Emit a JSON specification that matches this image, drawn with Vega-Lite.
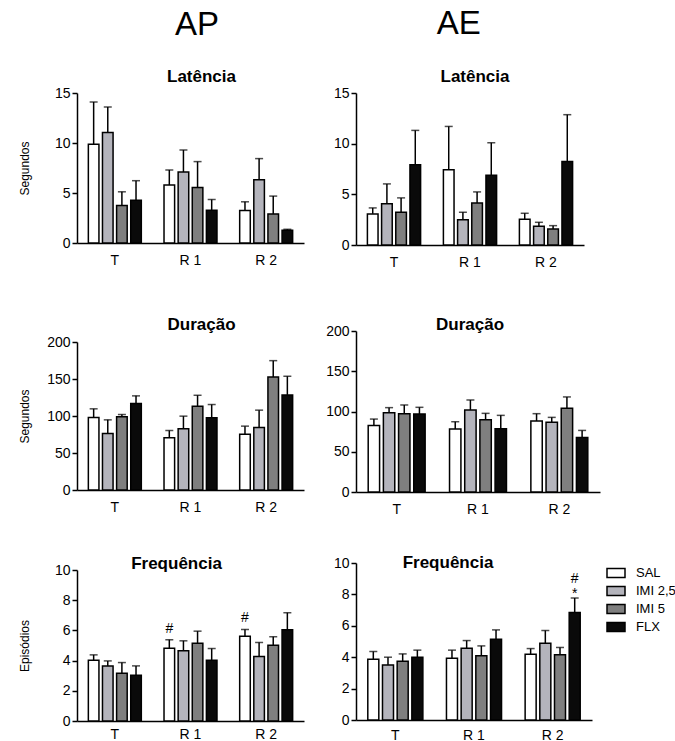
{
  "$schema": "https://vega.github.io/schema/vega-lite/v6.json",
  "background": "white",
  "padding": {"left": 18, "top": 8, "right": 0, "bottom": 0},
  "config": {
    "font": "Liberation Sans",
    "view": {"stroke": null},
    "axis": {"domainColor": "black", "domainWidth": 1.5, "tickColor": "black", "tickWidth": 1.5, "labelColor": "black", "labelFontSize": 14, "titleColor": "black", "titleFontSize": 12, "titleFontWeight": "normal", "grid": false},
    "axisY": {"tickSize": 5, "labelPadding": 2},
    "axisX": {"ticks": false, "labelPadding": 10, "labelAngle": 0},
    "title": {"fontSize": 17, "fontWeight": "bold", "color": "black", "anchor": "middle", "frame": "group"}
  },
  "datasets": {
    "d": [
      {"p": "APL", "g": "T", "t": "SAL", "m": 9.88, "e": 14.1},
      {"p": "APL", "g": "T", "t": "IMI 2,5", "m": 11.05, "e": 13.6},
      {"p": "APL", "g": "T", "t": "IMI 5", "m": 3.75, "e": 5.12},
      {"p": "APL", "g": "T", "t": "FLX", "m": 4.28, "e": 6.23},
      {"p": "APL", "g": "R 1", "t": "SAL", "m": 5.79, "e": 7.3},
      {"p": "APL", "g": "R 1", "t": "IMI 2,5", "m": 7.1, "e": 9.3},
      {"p": "APL", "g": "R 1", "t": "IMI 5", "m": 5.56, "e": 8.14},
      {"p": "APL", "g": "R 1", "t": "FLX", "m": 3.28, "e": 4.35},
      {"p": "APL", "g": "R 2", "t": "SAL", "m": 3.25, "e": 4.12},
      {"p": "APL", "g": "R 2", "t": "IMI 2,5", "m": 6.33, "e": 8.44},
      {"p": "APL", "g": "R 2", "t": "IMI 5", "m": 2.91, "e": 4.69},
      {"p": "APL", "g": "R 2", "t": "FLX", "m": 1.27, "e": 1.37},
      {"p": "AEL", "g": "T", "t": "SAL", "m": 3.07, "e": 3.66},
      {"p": "AEL", "g": "T", "t": "IMI 2,5", "m": 4.06, "e": 6.03},
      {"p": "AEL", "g": "T", "t": "IMI 5", "m": 3.23, "e": 4.65},
      {"p": "AEL", "g": "T", "t": "FLX", "m": 7.91, "e": 11.31},
      {"p": "AEL", "g": "R 1", "t": "SAL", "m": 7.42, "e": 11.7},
      {"p": "AEL", "g": "R 1", "t": "IMI 2,5", "m": 2.5, "e": 3.23},
      {"p": "AEL", "g": "R 1", "t": "IMI 5", "m": 4.15, "e": 5.24},
      {"p": "AEL", "g": "R 1", "t": "FLX", "m": 6.89, "e": 10.09},
      {"p": "AEL", "g": "R 2", "t": "SAL", "m": 2.54, "e": 3.13},
      {"p": "AEL", "g": "R 2", "t": "IMI 2,5", "m": 1.85, "e": 2.24},
      {"p": "AEL", "g": "R 2", "t": "IMI 5", "m": 1.58, "e": 1.91},
      {"p": "AEL", "g": "R 2", "t": "FLX", "m": 8.24, "e": 12.86},
      {"p": "APD", "g": "T", "t": "SAL", "m": 98, "e": 109.7},
      {"p": "APD", "g": "T", "t": "IMI 2,5", "m": 76.4, "e": 94.8},
      {"p": "APD", "g": "T", "t": "IMI 5", "m": 98.9, "e": 102},
      {"p": "APD", "g": "T", "t": "FLX", "m": 116.9, "e": 127.2},
      {"p": "APD", "g": "R 1", "t": "SAL", "m": 70.6, "e": 80.4},
      {"p": "APD", "g": "R 1", "t": "IMI 2,5", "m": 82.7, "e": 99.8},
      {"p": "APD", "g": "R 1", "t": "IMI 5", "m": 113.3, "e": 128},
      {"p": "APD", "g": "R 1", "t": "FLX", "m": 97.5, "e": 115.5},
      {"p": "APD", "g": "R 2", "t": "SAL", "m": 75.5, "e": 86.3},
      {"p": "APD", "g": "R 2", "t": "IMI 2,5", "m": 84.5, "e": 107.9},
      {"p": "APD", "g": "R 2", "t": "IMI 5", "m": 152.8, "e": 174.8},
      {"p": "APD", "g": "R 2", "t": "FLX", "m": 128.5, "e": 153.7},
      {"p": "AED", "g": "T", "t": "SAL", "m": 82.7, "e": 90.6},
      {"p": "AED", "g": "T", "t": "IMI 2,5", "m": 98.5, "e": 104.8},
      {"p": "AED", "g": "T", "t": "IMI 5", "m": 97.3, "e": 108.1},
      {"p": "AED", "g": "T", "t": "FLX", "m": 96.9, "e": 105.2},
      {"p": "AED", "g": "R 1", "t": "SAL", "m": 78.2, "e": 87.3},
      {"p": "AED", "g": "R 1", "t": "IMI 2,5", "m": 101.9, "e": 114.3},
      {"p": "AED", "g": "R 1", "t": "IMI 5", "m": 89.8, "e": 97.7},
      {"p": "AED", "g": "R 1", "t": "FLX", "m": 78.6, "e": 95.2},
      {"p": "AED", "g": "R 2", "t": "SAL", "m": 88.1, "e": 97.3},
      {"p": "AED", "g": "R 2", "t": "IMI 2,5", "m": 86.5, "e": 92.7},
      {"p": "AED", "g": "R 2", "t": "IMI 5", "m": 104, "e": 118.1},
      {"p": "AED", "g": "R 2", "t": "FLX", "m": 67.8, "e": 76.5},
      {"p": "APF", "g": "T", "t": "SAL", "m": 4.03, "e": 4.38},
      {"p": "APF", "g": "T", "t": "IMI 2,5", "m": 3.65, "e": 3.98},
      {"p": "APF", "g": "T", "t": "IMI 5", "m": 3.16, "e": 3.87},
      {"p": "APF", "g": "T", "t": "FLX", "m": 3.03, "e": 3.65},
      {"p": "APF", "g": "R 1", "t": "SAL", "m": 4.82, "e": 5.38, "n": "#"},
      {"p": "APF", "g": "R 1", "t": "IMI 2,5", "m": 4.65, "e": 5.31},
      {"p": "APF", "g": "R 1", "t": "IMI 5", "m": 5.15, "e": 5.95},
      {"p": "APF", "g": "R 1", "t": "FLX", "m": 4.03, "e": 4.8},
      {"p": "APF", "g": "R 2", "t": "SAL", "m": 5.62, "e": 6.06, "n": "#"},
      {"p": "APF", "g": "R 2", "t": "IMI 2,5", "m": 4.27, "e": 5.2},
      {"p": "APF", "g": "R 2", "t": "IMI 5", "m": 5.02, "e": 5.58},
      {"p": "APF", "g": "R 2", "t": "FLX", "m": 6.04, "e": 7.17},
      {"p": "AEF", "g": "T", "t": "SAL", "m": 3.87, "e": 4.36},
      {"p": "AEF", "g": "T", "t": "IMI 2,5", "m": 3.51, "e": 4.0},
      {"p": "AEF", "g": "T", "t": "IMI 5", "m": 3.74, "e": 4.21},
      {"p": "AEF", "g": "T", "t": "FLX", "m": 4.0, "e": 4.45},
      {"p": "AEF", "g": "R 1", "t": "SAL", "m": 3.94, "e": 4.45},
      {"p": "AEF", "g": "R 1", "t": "IMI 2,5", "m": 4.57, "e": 5.06},
      {"p": "AEF", "g": "R 1", "t": "IMI 5", "m": 4.09, "e": 4.72},
      {"p": "AEF", "g": "R 1", "t": "FLX", "m": 5.15, "e": 5.74},
      {"p": "AEF", "g": "R 2", "t": "SAL", "m": 4.19, "e": 4.55},
      {"p": "AEF", "g": "R 2", "t": "IMI 2,5", "m": 4.89, "e": 5.7},
      {"p": "AEF", "g": "R 2", "t": "IMI 5", "m": 4.15, "e": 4.62},
      {"p": "AEF", "g": "R 2", "t": "FLX", "m": 6.85, "e": 7.77, "n": "#\n*"}
    ]
  },
  "spacing": 21,
  "resolve": {"scale": {"color": "independent", "xOffset": "independent"}, "legend": {"color": "independent"}},
  "hconcat": [
    {
      "title": {"text": "AP", "fontSize": 33, "fontWeight": "normal", "offset": 26, "frame": "bounds", "dx": 36},
      "spacing": 39,
      "resolve": {"scale": {"color": "independent", "xOffset": "independent"}, "legend": {"color": "independent"}},
      "vconcat": [
        {
          "width": 227, "height": 150,
          "title": {"text": "Latência", "offset": 0, "dx": 11},
          "data": {"name": "d"},
          "transform": [{"filter": "datum.p === 'APL'"}],
          "encoding": {
            "x": {"field": "g", "type": "nominal", "sort": ["T", "R 1", "R 2"], "scale": {"paddingInner": 0.3, "paddingOuter": 0.15}, "axis": {"title": null, "minExtent": 34}},
            "xOffset": {"field": "t", "type": "nominal", "sort": ["SAL", "IMI 2,5", "IMI 5", "FLX"], "scale": {"paddingInner": 0.25}},
            "y": {"field": "m", "type": "quantitative", "scale": {"domain": [0, 15]}, "axis": {"title": "Segundos", "values": [0, 5, 10, 15], "minExtent": 40, "titlePadding": 6}}
          },
          "layer": [
            {"mark": {"type": "rule", "color": "black", "strokeWidth": 1.5}, "encoding": {"y2": {"field": "e"}}},
            {"mark": {"type": "tick", "color": "black", "thickness": 1.5, "size": 8}, "encoding": {"y": {"field": "e", "type": "quantitative", "scale": {"domain": [0, 15]}, "axis": {"title": "Segundos", "values": [0, 5, 10, 15], "minExtent": 40, "titlePadding": 6}}}},
            {"mark": {"type": "bar", "stroke": "black", "strokeWidth": 1.5}, "encoding": {"color": {"field": "t", "type": "nominal", "scale": {"domain": ["SAL", "IMI 2,5", "IMI 5", "FLX"], "range": ["#ffffff", "#b4b4bc", "#7f7f7f", "#0a0a0a"]}, "legend": null}}}
          ]
        },
        {
          "width": 227, "height": 148,
          "title": {"text": "Duração", "offset": 1, "dx": 11},
          "data": {"name": "d"},
          "transform": [{"filter": "datum.p === 'APD'"}],
          "encoding": {
            "x": {"field": "g", "type": "nominal", "sort": ["T", "R 1", "R 2"], "scale": {"paddingInner": 0.3, "paddingOuter": 0.15}, "axis": {"title": null, "minExtent": 26}},
            "xOffset": {"field": "t", "type": "nominal", "sort": ["SAL", "IMI 2,5", "IMI 5", "FLX"], "scale": {"paddingInner": 0.25}},
            "y": {"field": "m", "type": "quantitative", "scale": {"domain": [0, 200]}, "axis": {"title": "Segundos", "values": [0, 50, 100, 150, 200], "minExtent": 40, "titlePadding": 6}}
          },
          "layer": [
            {"mark": {"type": "rule", "color": "black", "strokeWidth": 1.5}, "encoding": {"y2": {"field": "e"}}},
            {"mark": {"type": "tick", "color": "black", "thickness": 1.5, "size": 8}, "encoding": {"y": {"field": "e", "type": "quantitative", "scale": {"domain": [0, 200]}, "axis": {"title": "Segundos", "values": [0, 50, 100, 150, 200], "minExtent": 40, "titlePadding": 6}}}},
            {"mark": {"type": "bar", "stroke": "black", "strokeWidth": 1.5}, "encoding": {"color": {"field": "t", "type": "nominal", "scale": {"domain": ["SAL", "IMI 2,5", "IMI 5", "FLX"], "range": ["#ffffff", "#b4b4bc", "#7f7f7f", "#0a0a0a"]}, "legend": null}}}
          ]
        },
        {
          "width": 227, "height": 151,
          "title": {"text": "Frequência", "offset": -10, "dx": -14},
          "data": {"name": "d"},
          "transform": [{"filter": "datum.p === 'APF'"}],
          "encoding": {
            "x": {"field": "g", "type": "nominal", "sort": ["T", "R 1", "R 2"], "scale": {"paddingInner": 0.3, "paddingOuter": 0.15}, "axis": {"title": null, "labelPadding": 6}},
            "xOffset": {"field": "t", "type": "nominal", "sort": ["SAL", "IMI 2,5", "IMI 5", "FLX"], "scale": {"paddingInner": 0.25}},
            "y": {"field": "m", "type": "quantitative", "scale": {"domain": [0, 10]}, "axis": {"title": "Episódios", "values": [0, 2, 4, 6, 8, 10], "minExtent": 40, "titlePadding": 6}}
          },
          "layer": [
            {"mark": {"type": "rule", "color": "black", "strokeWidth": 1.5}, "encoding": {"y2": {"field": "e"}}},
            {"mark": {"type": "tick", "color": "black", "thickness": 1.5, "size": 8}, "encoding": {"y": {"field": "e", "type": "quantitative", "scale": {"domain": [0, 10]}, "axis": {"title": "Episódios", "values": [0, 2, 4, 6, 8, 10], "minExtent": 40, "titlePadding": 6}}}},
            {"mark": {"type": "bar", "stroke": "black", "strokeWidth": 1.5}, "encoding": {"color": {"field": "t", "type": "nominal", "scale": {"domain": ["SAL", "IMI 2,5", "IMI 5", "FLX"], "range": ["#ffffff", "#b4b4bc", "#7f7f7f", "#0a0a0a"]}, "legend": null}}},
            {"transform": [{"filter": "datum.n != null"}], "mark": {"type": "text", "baseline": "bottom", "dy": -4, "fontSize": 14, "color": "black"}, "encoding": {"y": {"field": "e", "type": "quantitative", "scale": {"domain": [0, 10]}, "axis": {"title": "Episódios", "values": [0, 2, 4, 6, 8, 10], "minExtent": 40, "titlePadding": 6}}, "text": {"field": "n"}}}
          ]
        }
      ]
    },
    {
      "title": {"text": "AE", "fontSize": 33, "fontWeight": "normal", "offset": 27, "frame": "bounds", "dx": -42},
      "spacing": 36,
      "resolve": {"scale": {"color": "independent", "xOffset": "independent"}, "legend": {"color": "independent"}},
      "vconcat": [
        {
          "width": 228, "height": 152,
          "title": {"text": "Latência", "offset": 0, "dx": 5},
          "data": {"name": "d"},
          "transform": [{"filter": "datum.p === 'AEL'"}],
          "encoding": {
            "x": {"field": "g", "type": "nominal", "sort": ["T", "R 1", "R 2"], "scale": {"paddingInner": 0.3, "paddingOuter": 0.15}, "axis": {"title": null, "minExtent": 35}},
            "xOffset": {"field": "t", "type": "nominal", "sort": ["SAL", "IMI 2,5", "IMI 5", "FLX"], "scale": {"paddingInner": 0.25}},
            "y": {"field": "m", "type": "quantitative", "scale": {"domain": [0, 15]}, "axis": {"title": null, "values": [0, 5, 10, 15]}}
          },
          "layer": [
            {"mark": {"type": "rule", "color": "black", "strokeWidth": 1.5}, "encoding": {"y2": {"field": "e"}}},
            {"mark": {"type": "tick", "color": "black", "thickness": 1.5, "size": 8}, "encoding": {"y": {"field": "e", "type": "quantitative", "scale": {"domain": [0, 15]}, "axis": {"title": null, "values": [0, 5, 10, 15]}}}},
            {"mark": {"type": "bar", "stroke": "black", "strokeWidth": 1.5}, "encoding": {"color": {"field": "t", "type": "nominal", "scale": {"domain": ["SAL", "IMI 2,5", "IMI 5", "FLX"], "range": ["#ffffff", "#b4b4bc", "#7f7f7f", "#0a0a0a"]}, "legend": null}}}
          ]
        },
        {
          "width": 244, "height": 161,
          "title": {"text": "Duração", "offset": -10, "dx": -8},
          "data": {"name": "d"},
          "transform": [{"filter": "datum.p === 'AED'"}],
          "encoding": {
            "x": {"field": "g", "type": "nominal", "sort": ["T", "R 1", "R 2"], "scale": {"paddingInner": 0.3, "paddingOuter": 0.15}, "axis": {"title": null, "minExtent": 26}},
            "xOffset": {"field": "t", "type": "nominal", "sort": ["SAL", "IMI 2,5", "IMI 5", "FLX"], "scale": {"paddingInner": 0.25}},
            "y": {"field": "m", "type": "quantitative", "scale": {"domain": [0, 200]}, "axis": {"title": null, "values": [0, 50, 100, 150, 200]}}
          },
          "layer": [
            {"mark": {"type": "rule", "color": "black", "strokeWidth": 1.5}, "encoding": {"y2": {"field": "e"}}},
            {"mark": {"type": "tick", "color": "black", "thickness": 1.5, "size": 8}, "encoding": {"y": {"field": "e", "type": "quantitative", "scale": {"domain": [0, 200]}, "axis": {"title": null, "values": [0, 50, 100, 150, 200]}}}},
            {"mark": {"type": "bar", "stroke": "black", "strokeWidth": 1.5}, "encoding": {"color": {"field": "t", "type": "nominal", "scale": {"domain": ["SAL", "IMI 2,5", "IMI 5", "FLX"], "range": ["#ffffff", "#b4b4bc", "#7f7f7f", "#0a0a0a"]}, "legend": null}}}
          ]
        },
        {
          "width": 236, "height": 157,
          "title": {"text": "Frequência", "offset": -16, "dx": -26},
          "data": {"name": "d"},
          "transform": [{"filter": "datum.p === 'AEF'"}],
          "encoding": {
            "x": {"field": "g", "type": "nominal", "sort": ["T", "R 1", "R 2"], "scale": {"paddingInner": 0.3, "paddingOuter": 0.15}, "axis": {"title": null, "labelPadding": 8}},
            "xOffset": {"field": "t", "type": "nominal", "sort": ["SAL", "IMI 2,5", "IMI 5", "FLX"], "scale": {"paddingInner": 0.25}},
            "y": {"field": "m", "type": "quantitative", "scale": {"domain": [0, 10]}, "axis": {"title": null, "values": [0, 2, 4, 6, 8, 10]}}
          },
          "layer": [
            {"mark": {"type": "rule", "color": "black", "strokeWidth": 1.5}, "encoding": {"y2": {"field": "e"}}},
            {"mark": {"type": "tick", "color": "black", "thickness": 1.5, "size": 8}, "encoding": {"y": {"field": "e", "type": "quantitative", "scale": {"domain": [0, 10]}, "axis": {"title": null, "values": [0, 2, 4, 6, 8, 10]}}}},
            {"mark": {"type": "bar", "stroke": "black", "strokeWidth": 1.5}, "encoding": {"color": {"field": "t", "type": "nominal", "scale": {"domain": ["SAL", "IMI 2,5", "IMI 5", "FLX"], "range": ["#ffffff", "#b4b4bc", "#7f7f7f", "#0a0a0a"]}, "legend": {"title": null, "orient": "right", "offset": 14, "symbolType": "M-1,-0.5H1V0.5H-1Z", "symbolSize": 324, "symbolStrokeColor": "black", "symbolStrokeWidth": 1.5, "labelFontSize": 13, "labelOffset": 10, "rowPadding": 0, "labelColor": "black"}}}},
            {"transform": [{"filter": "datum.n != null"}], "mark": {"type": "text", "baseline": "bottom", "dy": -12, "fontSize": 14, "lineBreak": "\n", "lineHeight": 15, "color": "black"}, "encoding": {"y": {"field": "e", "type": "quantitative", "scale": {"domain": [0, 10]}, "axis": {"title": null, "values": [0, 2, 4, 6, 8, 10]}}, "text": {"field": "n"}}}
          ]
        }
      ]
    }
  ]
}
